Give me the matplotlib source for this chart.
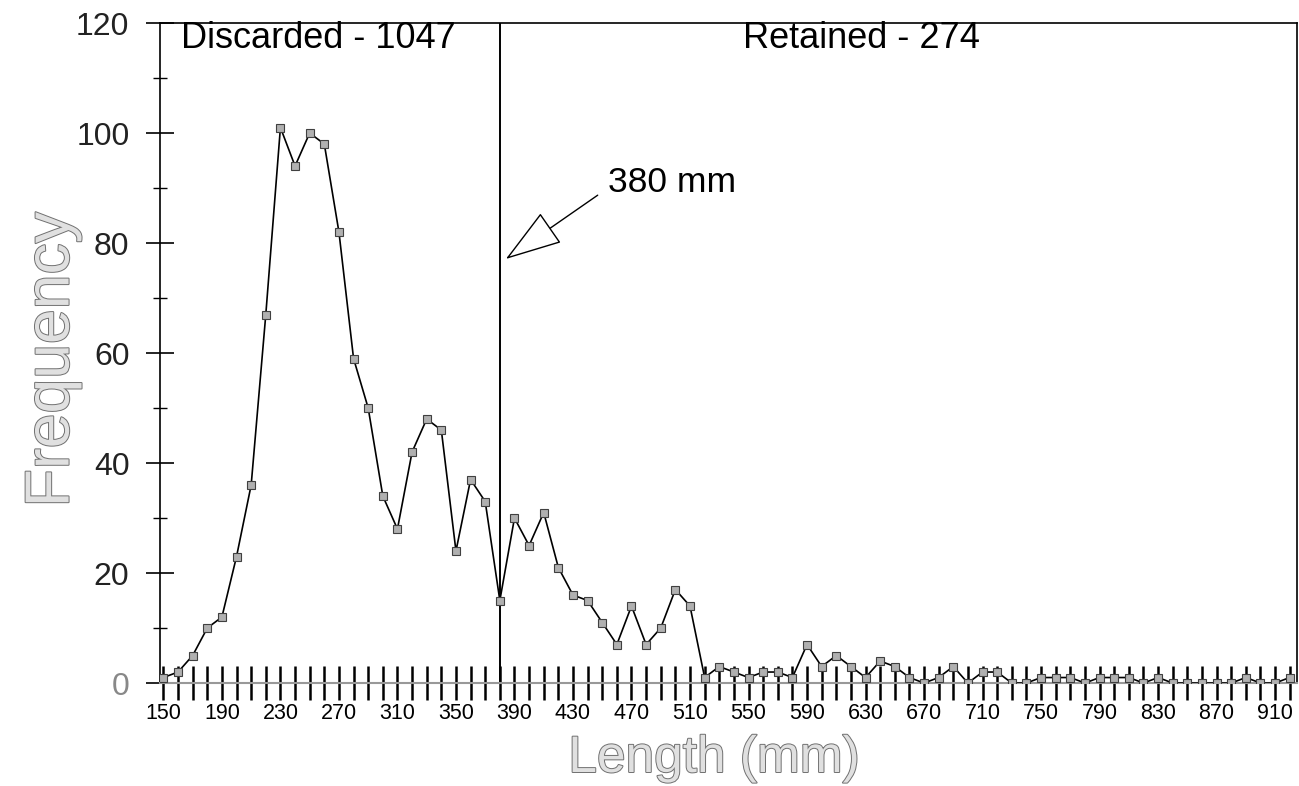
import matplotlib
matplotlib.use("Agg")
import matplotlib.pyplot as plt
import matplotlib.patheffects as pe
import numpy as np

plt.rcParams['font.family'] = ['Liberation Sans', 'DejaVu Sans']

# length classes (mm) and fish counts
lengths = list(range(150, 930, 10))
counts = [1, 2, 5, 10, 12, 23, 36, 67, 101, 94, 100, 98, 82, 59, 50, 34,
          28, 42, 48, 46, 24, 37, 33, 15, 30, 25, 31, 21, 16, 15, 11, 7,
          14, 7, 10, 17, 14, 1, 3, 2, 1, 2, 2, 1, 7, 3, 5, 3, 1, 4, 3, 1,
          0, 1, 3, 0, 2, 2, 0, 0, 1, 1, 1, 0, 1, 1, 1, 0, 1, 0, 0, 0, 0,
          0, 1, 0, 0, 1]
cutoff = 380
discarded_label = "Discarded - 1047"
retained_label = "Retained - 274"
x_ticklabels = list(range(150, 911, 40))

fig = plt.figure(figsize=(12.99, 7.86), dpi=100)
ax = fig.add_axes([0.1232, 0.131, 0.8753, 0.8397])

ax.plot(lengths, counts, color='black', lw=1.2, marker='s', ms=6,
        mfc='#b0b0b0', mec='#404040', mew=0.8, zorder=3)

# legal size cut-off
ax.axvline(cutoff, color='black', lw=1.4, zorder=2)

ax.set_xlim(147.7, 925)
ax.set_ylim(0, 120)

ax.set_yticks(np.arange(0, 121, 20))
ax.set_yticks(np.arange(10, 120, 20), minor=True)
ax.tick_params(axis='y', which='major', direction='inout', length=20,
               width=1.2, labelsize=23, pad=12, labelcolor='#222222')
ax.tick_params(axis='y', which='minor', direction='inout', length=10, width=1)
ax.get_yticklabels()[0].set_color('#888888')

ax.set_xticks(lengths)
ax.set_xticklabels([str(v) if v in x_ticklabels else '' for v in lengths])
ax.tick_params(axis='x', which='major', direction='inout', length=25,
               width=1.8, labelsize=15.5, pad=2)

for side in ['left', 'top', 'right']:
    ax.spines[side].set_linewidth(1.2)
ax.spines['bottom'].set_color('#999999')
ax.spines['bottom'].set_linewidth(1.5)

outline = [pe.withStroke(linewidth=1.4, foreground='#707070')]
ax.set_xlabel("Length (mm)", fontsize=37, color='#e0e0e0', va='baseline',
              path_effects=outline)
ax.xaxis.set_label_coords(0.487, -0.1348)
ax.set_ylabel("Frequency", fontsize=45, color='#e0e0e0',
              path_effects=outline)
ax.yaxis.set_label_coords(-0.069, 0.49)

ax.text(256, 117.2, discarded_label, fontsize=26, ha='center', va='center')
ax.text(627, 117.1, retained_label, fontsize=26, ha='center', va='center')

ax.text(454, 91, "380 mm", fontsize=25.5, ha='left', va='center')
ax.annotate("", xy=(384.1, 77.1), xytext=(446.9, 88.7),
            arrowprops=dict(arrowstyle='-|>,head_length=3.7,head_width=1.2',
                            mutation_scale=10, fc='white', ec='black', lw=1,
                            shrinkA=0, shrinkB=0))

fig.savefig("out.png", dpi=100)
